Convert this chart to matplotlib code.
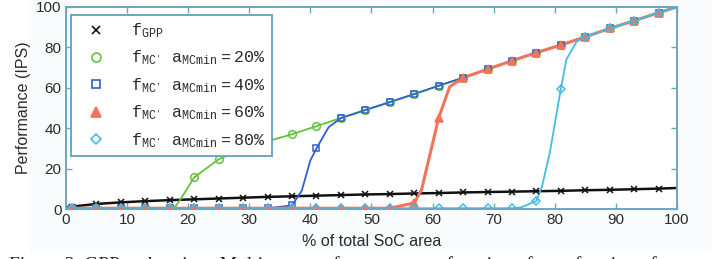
import matplotlib.pyplot as plt
from matplotlib.lines import Line2D

BACKGROUND_COLOR = "#f9fbfd"
FRAME_COLOR = "#6aa6c2"
TEXT_COLOR = "#2b2b2b"
FIGURE_SIZE = (7.16, 2.59)

# Marker positions (% of total SoC area)
area = [1, 5, 9, 13, 17, 21, 25, 29, 33, 37, 41, 45, 49,
        53, 57, 61, 65, 69, 73, 77, 81, 85, 89, 93, 97]

# Performance (IPS)
gpp = [1.2, 2.5, 3.3, 3.9, 4.4, 4.8, 5.2, 5.6, 6.0, 6.3, 6.6, 6.9, 7.2,
       7.4, 7.7, 7.9, 8.2, 8.4, 8.6, 8.8, 9.0, 9.3, 9.5, 9.8, 10.1]
mc20 = [0.4, 0.4, 0.4, 0.4, 0.4, 15.7, 24.6, 30.0, 33.5, 37.0, 41.0, 45.0, 49.0,
        52.9, 56.9, 61.0, 65.0, 69.2, 73.4, 77.4, 81.2, 85.2, 89.4, 93.2, 97.2]
mc40 = [0.4, 0.4, 0.4, 0.4, 0.4, 0.4, 0.4, 0.4, 0.4, 1.8, 30.0, 45.0, 49.0,
        52.9, 56.9, 61.0, 65.0, 69.2, 73.4, 77.4, 81.2, 85.2, 89.4, 93.2, 97.2]
mc60 = [0.4, 0.4, 0.4, 0.4, 0.4, 0.4, 0.4, 0.4, 0.4, 0.4, 0.4, 0.4, 0.4,
        0.4, 3.0, 45.0, 65.0, 69.2, 73.4, 77.4, 81.2, 85.2, 89.4, 93.2, 97.2]
mc80 = [0.4, 0.4, 0.4, 0.4, 0.4, 0.4, 0.4, 0.4, 0.4, 0.4, 0.4, 0.4, 0.4,
        0.4, 0.4, 0.4, 0.4, 0.4, 0.4, 4.0, 59.5, 85.2, 89.4, 93.2, 97.2]

# Extra points on the drawn curves (ends and steep transitions)
gpp_extra = [(0, 0.8), (100, 10.4)]
mc20_extra = [(0, 0.4), (17.8, 0.8), (18.7, 4.5), (100, 100)]
mc40_extra = [(0, 0.4), (38.6, 9.0), (40.0, 24.0), (43.0, 40.5), (100, 100)]
mc60_extra = [(0, 0.4), (58.2, 9.5), (62.8, 60.5), (100, 100)]
mc80_extra = [(0, 0.4), (74.5, 0.8), (77.9, 11.0), (79.2, 28.0), (81.9, 74.0),
              (83.6, 83.0), (100, 100)]

labels = [
    r"$\mathtt{f_{GPP}}$",
    r"$\mathtt{f_{MC'}\ \ a_{MCmin}=20\%}$",
    r"$\mathtt{f_{MC'}\ \ a_{MCmin}=40\%}$",
    r"$\mathtt{f_{MC'}\ \ a_{MCmin}=60\%}$",
    r"$\mathtt{f_{MC'}\ \ a_{MCmin}=80\%}$",
]

caption = ("Figure 3. GPP and various Multi-core performance as a function "
           "of area fraction of")

plt.rcParams["font.family"] = ["Liberation Sans", "DejaVu Sans"]
plt.rcParams["mathtext.fontset"] = "custom"
plt.rcParams["mathtext.tt"] = "Liberation Mono"
plt.rcParams["mathtext.rm"] = "Liberation Mono"


def curve(xs, ys, extra):
    pts = sorted(list(zip(xs, ys)) + extra)
    return [p[0] for p in pts], [p[1] for p in pts]


fig = plt.figure(figsize=FIGURE_SIZE, dpi=100)
fig.patch.set_facecolor("white")
ax = fig.add_axes([0.092, 0.193, 0.8535, 0.780])
ax.set_facecolor("white")

# background band of the scanned figure
fig.patches.append(plt.Rectangle((0.04, 0.027), 0.955, 0.973,
                                 transform=fig.transFigure,
                                 facecolor=BACKGROUND_COLOR, zorder=-5))

series = [
    (gpp, gpp_extra, "#111111", "x", "#111111", 1.8, 4.5),
    (mc20, mc20_extra, "#62c23c", "o", "none", 1.3, 5.5),
    (mc40, mc40_extra, "#2f5fd0", "s", "none", 1.3, 5),
    (mc60, mc60_extra, "#f2735c", "^", "#f2735c", 2.2, 6),
    (mc80, mc80_extra, "#3fbde3", "D", "none", 1.3, 4.5),
]

handles = []
for (vals, extra, color, marker, face, lw, ms), label in zip(series, labels):
    lx, ly = curve(area, vals, extra)
    ax.plot(lx, ly, color=color, linewidth=lw, zorder=2)
    ax.plot(area, vals, linestyle="none", marker=marker, markersize=ms,
            markeredgecolor=color, markerfacecolor=face, markeredgewidth=1.1,
            zorder=3)
    handles.append(Line2D([0], [0], linestyle="none", marker=marker,
                          markersize=ms + 1, markeredgecolor=color,
                          markerfacecolor=face, markeredgewidth=1.2,
                          label=label))

ax.set_xlim(0, 100)
ax.set_ylim(0, 100)
ax.set_xticks(range(0, 101, 10))
ax.set_yticks(range(0, 101, 20))

for spine in ax.spines.values():
    spine.set_color(FRAME_COLOR)
    spine.set_linewidth(1.4)
ax.tick_params(direction="in", length=4, width=1.0, color=FRAME_COLOR,
               top=True, right=True, labelsize=11, labelcolor=TEXT_COLOR, pad=3)

ax.set_xlabel("% of total SoC area", fontsize=11.5, color=TEXT_COLOR, labelpad=5)
ax.set_ylabel("Performance (IPS)", fontsize=11.5, color=TEXT_COLOR, labelpad=4)

legend = ax.legend(
    handles=handles,
    loc="upper left",
    bbox_to_anchor=(0.008, 0.962),
    fontsize=12,
    frameon=True,
    fancybox=False,
    framealpha=1,
    edgecolor=FRAME_COLOR,
    borderpad=0.4,
    labelspacing=0.52,
    handletextpad=1.0,
    handlelength=2.2,
    borderaxespad=0,
)
legend.get_frame().set_linewidth(1.4)
for text in legend.get_texts():
    text.set_color(TEXT_COLOR)

# caption of the paper, cut by the bottom edge
fig.text(0.012, 0.012, caption, fontsize=14, family="Liberation Serif",
         color="#222222", va="top", ha="left")

plt.savefig("out.png", dpi=100, facecolor=fig.get_facecolor())
plt.close()
